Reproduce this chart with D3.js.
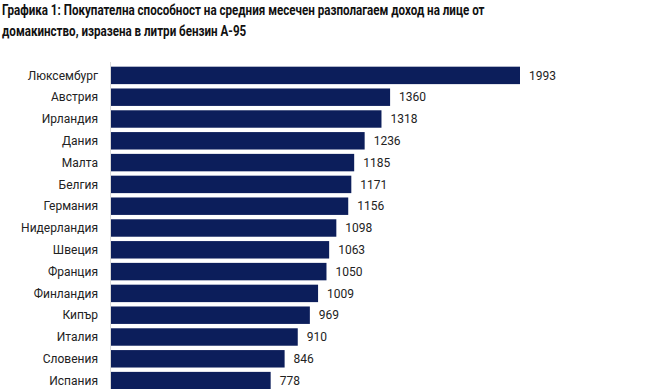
<!DOCTYPE html>
<html><head><meta charset="utf-8">
<script src="https://cdn.jsdelivr.net/npm/d3@7"></script>
<style>body{margin:0;background:#fff}svg{display:block}</style>
</head><body>
<svg id="c" width="650" height="389"></svg>
<script>
const titleLines = ["Графика 1: Покупателна способност на средния месечен разполагаем доход на лице от", "домакинство, изразена в литри бензин А-95"];
const categories = ["Люксембург","Австрия","Ирландия","Дания","Малта","Белгия","Германия","Нидерландия","Швеция","Франция","Финландия","Кипър","Италия","Словения","Испания"];
const values = [1993,1360,1318,1236,1185,1171,1156,1098,1063,1050,1009,969,910,846,778];

const svg = d3.select("#c");
const titleFont = "Roboto, 'Open Sans', sans-serif";
const font = "Roboto, 'Open Sans', sans-serif";
const x0 = 111;
const x = d3.scaleLinear().domain([0, 1993]).range([x0, 520]);
const y = d3.scaleBand().domain(categories).range([64.5, 64.5 + categories.length * 21.8]).paddingInner(0.2).paddingOuter(0.1);

// title
const tl = svg.append("g");
const tEls = titleLines.map((t, i) => tl.append("text").attr("x", 0).attr("y", 15 + i * 21)
    .attr("font-family", titleFont).attr("font-weight", "bold").attr("font-size", 14.5)
    .attr("fill", "#111").text(t));
const w = tEls[0].node().getComputedTextLength();
const sx = Math.min(1, 483 / w);
tl.attr("transform", `translate(2,0) scale(${sx},1)`);

// axis line
svg.append("line").attr("x1", x0 - 0.5).attr("x2", x0 - 0.5).attr("y1", 62).attr("y2", 389)
  .attr("stroke", "#d9d9d9").attr("stroke-width", 1);

const data = categories.map((c, i) => ({c, v: values[i]}));

svg.selectAll("rect.bar").data(data).join("rect").attr("class", "bar")
  .attr("x", x0).attr("y", d => y(d.c)).attr("height", y.bandwidth())
  .attr("width", d => x(d.v) - x0).attr("fill", "#0c1e5b");

svg.selectAll("text.cat").data(data).join("text").attr("class", "cat")
  .attr("x", 98).attr("y", d => y(d.c) + y.bandwidth() / 2).attr("dy", "0.35em")
  .attr("text-anchor", "end").attr("font-family", font).attr("font-size", 12)
  .attr("fill", "#222").text(d => d.c);

svg.selectAll("text.val").data(data).join("text").attr("class", "val")
  .attr("x", d => x(d.v) + 9).attr("y", d => y(d.c) + y.bandwidth() / 2).attr("dy", "0.35em")
  .attr("font-family", font).attr("font-size", 12)
  .attr("fill", "#222").text(d => d.v);
</script>
</body></html>
